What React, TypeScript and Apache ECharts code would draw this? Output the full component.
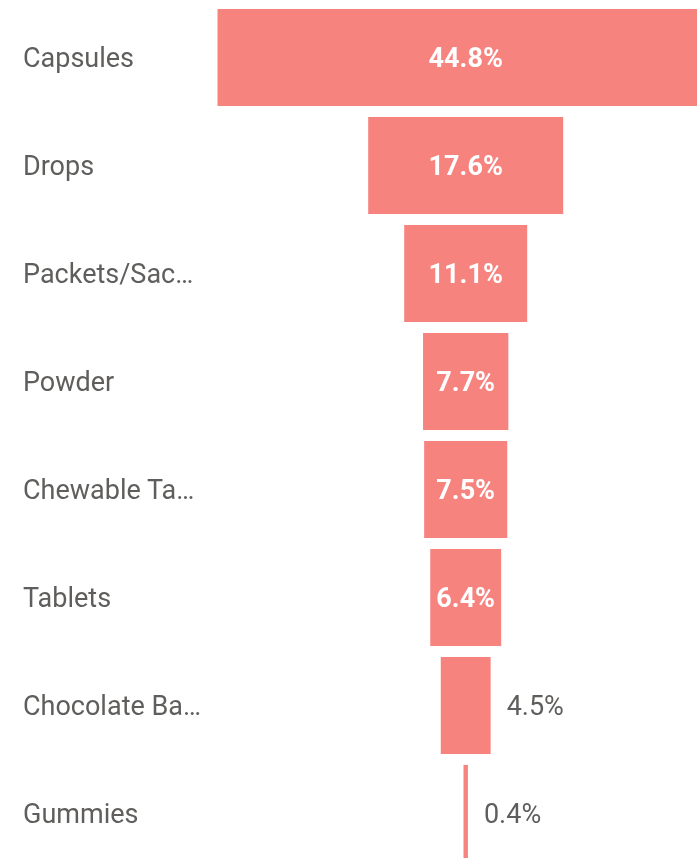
import React, { useEffect, useRef } from 'react';
import * as echarts from 'echarts';

const categories = [
  'Capsules',
  'Drops',
  'Packets/Sac…',
  'Powder',
  'Chewable Ta…',
  'Tablets',
  'Chocolate Ba…',
  'Gummies',
];
const shares = [44.8, 17.6, 11.1, 7.7, 7.5, 6.4, 4.5, 0.4];
const outsideLabelBelow = 5;

const BAR_COLOR = '#F7837F';
const TEXT_GREY = '#5F5E5C';
const FONT = 'Roboto, "Noto Sans", sans-serif';

export default function App() {
  const ref = useRef<HTMLDivElement>(null);
  useEffect(() => {
    if (!ref.current) return;
    const chart = echarts.init(ref.current, null, { renderer: 'svg' });
    const offsets = shares.map((v) => -v / 2);
    const values = shares.map((v) =>
      v < outsideLabelBelow
        ? {
            value: v,
            label: {
              position: 'right',
              distance: 16,
              color: TEXT_GREY,
              fontWeight: 'normal',
            },
          }
        : { value: v }
    );
    chart.setOption({
      animation: false,
      grid: {
        left: 188.7,
        top: 3.5,
        width: 554,
        height: 864,
        containLabel: false,
        outerBoundsMode: 'none',
      },
      xAxis: { type: 'value', min: -25, max: 25, show: false },
      yAxis: {
        type: 'category',
        data: categories,
        inverse: true,
        axisLine: { show: false, onZero: false },
        axisTick: { show: false },
        splitLine: { show: false },
        axisLabel: {
          align: 'left',
          margin: 165.7,
          fontSize: 27,
          color: TEXT_GREY,
          fontFamily: FONT,
        },
      },
      series: [
        {
          type: 'bar',
          stack: 'funnel',
          stackStrategy: 'all',
          data: offsets,
          silent: true,
          itemStyle: { color: 'transparent' },
          barCategoryGap: '10%',
        },
        {
          type: 'bar',
          stack: 'funnel',
          stackStrategy: 'all',
          data: values,
          barCategoryGap: '10%',
          itemStyle: { color: BAR_COLOR },
          label: {
            show: true,
            position: 'inside',
            color: '#FFFFFF',
            fontSize: 27,
            fontWeight: 'bold',
            fontFamily: FONT,
            formatter: (p: any) => `${Number(p.value).toFixed(1)}%`,
          },
        },
      ],
    });
    return () => chart.dispose();
  }, []);
  return (
    <div
      ref={ref}
      style={{ position: 'fixed', left: 0, top: 0, width: 697, height: 858 }}
    />
  );
}
